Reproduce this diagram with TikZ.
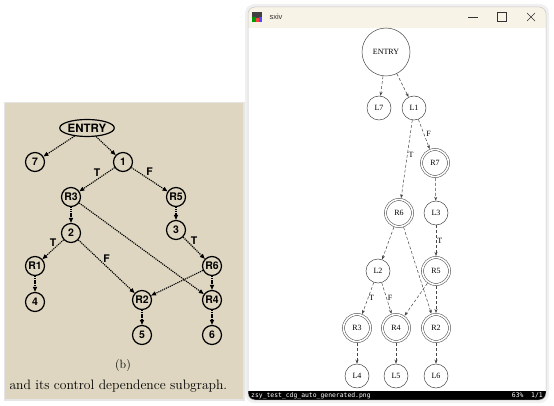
\documentclass[tikz,border=0pt]{standalone}
\usepackage{fontspec}
\newfontfamily\gvfont{Liberation Serif}
\newfontfamily\scanfont{TeX Gyre Heros}
\newfontfamily\uifont{Liberation Sans}
\newfontfamily\barfont{DejaVu Sans Mono}
\usetikzlibrary{arrows.meta,positioning,shapes.geometric}

\definecolor{paper}{RGB}{222,214,192}
\definecolor{titlebg}{RGB}{248,243,231}
\definecolor{gvline}{RGB}{70,70,70}

\begin{document}
\begin{tikzpicture}[
    x=1pt,y=-1pt,
    >={Stealth[length=4pt,width=3pt]},
    old/.style={circle,draw=black,line width=1.2pt,inner sep=0,minimum size=19pt,
      font=\scanfont\bfseries\fontsize{10.5}{10.5}\selectfont},
    oldentry/.style={old,ellipse,minimum width=52pt,minimum height=17pt,
      font=\scanfont\bfseries\fontsize{11.5}{11.5}\selectfont},
    oldedge/.style={-{Triangle[length=5pt,width=4pt]},line width=1.1pt,
      dash pattern=on 1.2pt off 0.9pt},
    oldlab/.style={font=\scanfont\bfseries\fontsize{10.5}{10.5}\selectfont,inner sep=1pt},
    gv/.style={circle,draw=gvline,line width=0.5pt,inner sep=0,minimum size=24pt,
      font=\gvfont\fontsize{8}{8}\selectfont},
    gvd/.style={gv,double,double distance=1.6pt,minimum size=27pt,outer sep=1.5pt},
    gvedge/.style={->,gvline,line width=0.5pt,dash pattern=on 3pt off 2pt},
    gvlab/.style={font=\gvfont\fontsize{8}{8}\selectfont,inner sep=1pt,text=black}
    ]
    \useasboundingbox (0,0) rectangle (554,406);

    % scanned figure
    \fill[gray!20] (4,102) rectangle (245,401);
    \fill[paper] (5,103) rectangle (243,399);

    \node [oldentry] (entry) at (87,128) {ENTRY};
    \node [old] (n7) at (35,162) {7};
    \node [old] (n1) at (123,162) {1};
    \node [old] (r3) at (71,197) {R3};
    \node [old] (r5) at (176,197) {R5};
    \node [old] (n2) at (71,233) {2};
    \node [old] (n3) at (176,230) {3};
    \node [old] (r1) at (35,266) {R1};
    \node [old] (r6) at (212,266) {R6};
    \node [old] (n4) at (35,302) {4};
    \node [old] (r2) at (142,300) {R2};
    \node [old] (r4) at (212,300) {R4};
    \node [old] (n5) at (142,335) {5};
    \node [old] (n6) at (212,335) {6};

    \foreach \a/\b in {entry/n7,entry/n1,r3/n2,r3/r4,r5/n3,r1/n4,
                       r6/r2,r6/r4,r2/n5,r4/n6} {
      \draw [oldedge] (\a) -- (\b);
    }
    \draw [oldedge] (n1) -- node [oldlab,above=1.5pt] {T} (r3);
    \draw [oldedge] (n1) -- node [oldlab,above=2pt] {F} (r5);
    \draw [oldedge] (n2) -- node [oldlab,above=1pt] {T} (r1);
    \draw [oldedge] (n2) -- node [oldlab,above=2pt] {F} (r2);
    \draw [oldedge] (n3) -- node [oldlab,above=2pt] {T} (r6);

    \node [font=\fontsize{12}{12}\selectfont] (cap) at (123,366) {(b)};
    \node [font=\fontsize{13.6}{13.6}\selectfont,anchor=west] (capline) at (6,386)
      {and its control dependence subgraph.};

    % viewer window
    \fill[gray!12,rounded corners=9pt] (245,4) rectangle (549,403);
    \begin{scope}
      \clip[rounded corners=7pt] (248,7) rectangle (546,400);
      \fill[white] (248,7) rectangle (546,400);
      \fill[titlebg] (248,7) rectangle (546,28);
      \fill[black] (248,391) rectangle (546,400);
    \end{scope}
    \draw[gray!45,line width=0.5pt,rounded corners=7pt] (248,7) rectangle (546,400);

    % title bar
    \fill[black!75] (252,12) rectangle (262,22);
    \fill[green!60!black] (252,17) rectangle (256,22);
    \fill[red!75] (256,18) rectangle (259,22);
    \fill[blue!70] (259,17) rectangle (262,22);
    \node [font=\uifont\fontsize{7.5}{7.5}\selectfont,anchor=west,text=black!80]
      (title) at (266,17) {sxiv};
    \draw[black!80,line width=0.6pt] (468,17) -- (478,17);
    \draw[black!80,line width=0.6pt] (497,12.5) rectangle (506,21.5);
    \draw[black!80,line width=0.6pt] (527,13) -- (535,21) (527,21) -- (535,13);

    % status bar
    \node [font=\barfont\fontsize{6.4}{6.4}\selectfont,anchor=west,text=white,inner sep=0]
      (fname) at (251,395.5) {zsy\_test\_cdg\_auto\_generated.png};
    \node [font=\barfont\fontsize{6.4}{6.4}\selectfont,anchor=east,text=white,inner sep=0]
      (pages) at (543,395.5) {63\%\ \ 1/1};

    % generated graph
    \node [gv,minimum size=48pt] (gentry) at (386,52) {ENTRY};
    \node [gv] (l7) at (379,108) {L7};
    \node [gv] (l1) at (414,108) {L1};
    \node [gvd] (g7) at (435,163) {R7};
    \node [gvd] (g6) at (399,213) {R6};
    \node [gv] (l3) at (436,213) {L3};
    \node [gv] (l2) at (378,271) {L2};
    \node [gvd] (g5) at (436,271) {R5};
    \node [gvd] (g3) at (357,328) {R3};
    \node [gvd] (g4) at (396,328) {R4};
    \node [gvd] (g2) at (436,328) {R2};
    \node [gv] (l4) at (357,376) {L4};
    \node [gv] (l5) at (396,376) {L5};
    \node [gv] (l6) at (436,376) {L6};

    \foreach \a/\b in {gentry/l7,gentry/l1,g7/l3,g6/l2,g6/g2,
                       g5/g4,g5/g2,g3/l4,g4/l5,g2/l6} {
      \draw [gvedge] (\a) -- (\b);
    }
    \draw [gvedge] (l1) -- node [gvlab,right=1pt] {F} (g7);
    \draw [gvedge] (l1) -- node [gvlab,right,pos=0.45] {T} (g6);
    \draw [gvedge] (l3) -- node [gvlab,right=0pt] {T} (g5);
    \draw [gvedge] (l2) -- node [gvlab,right] {T} (g3);
    \draw [gvedge] (l2) -- node [gvlab,right] {F} (g4);
\end{tikzpicture}
\end{document}
